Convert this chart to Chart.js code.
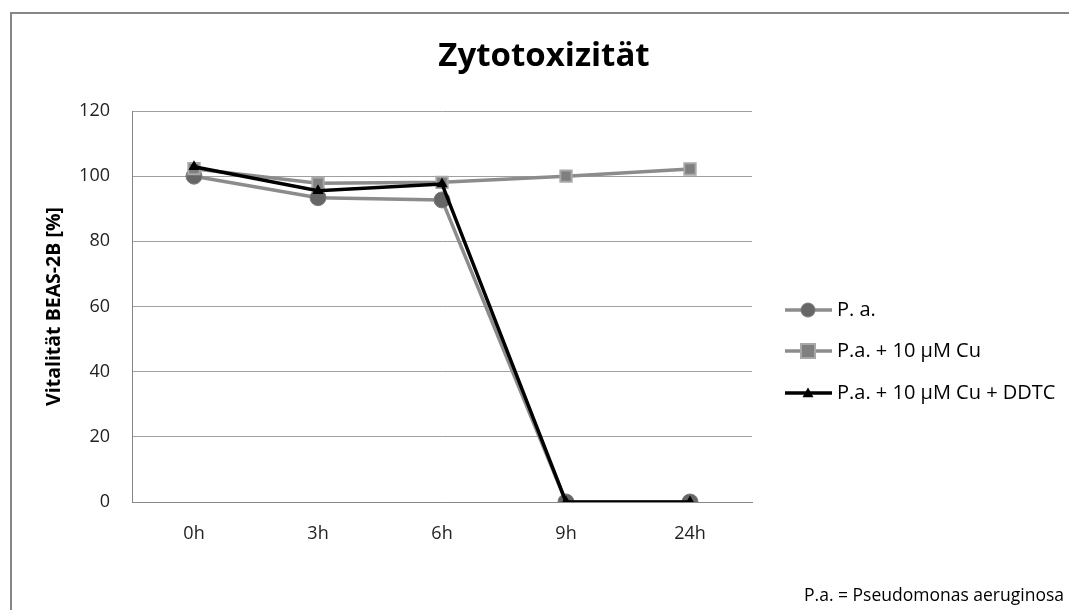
<!DOCTYPE html>
<html>
<head>
<meta charset="utf-8">
<script src="https://cdn.jsdelivr.net/npm/chart.js@4.4.0/dist/chart.umd.min.js"></script>
<style>
    html, body { margin: 0; padding: 0; background: #fff; }
    #wrap { width: 1069px; height: 610px; position: relative; }
</style>
</head>
<body>
<div id="wrap"><canvas id="zyto"></canvas></div>
<script>
var labels = ['0h', '3h', '6h', '9h', '24h'];
var pa = [100, 93.4, 92.7, 0, 0];
var paCu = [102.3, 97.8, 98.1, 100, 102.2];
var paCuDdtc = [102.9, 95.5, 97.6, 0, 0];
var seriesNames = ['P. a.', 'P.a. + 10 µM Cu', 'P.a. + 10 µM Cu + DDTC'];
var yTicks = [0, 20, 40, 60, 80, 100, 120];

var FONT = '"Open Sans", Lato, sans-serif';

// frame, title, legend and footnote like the Excel chart
var extras = {
    id: 'extras',
    beforeDraw: function (chart) {
        var c = chart.ctx;
        c.save();
        c.fillStyle = '#fff';
        c.fillRect(0, 0, chart.width, chart.height);
        c.strokeStyle = '#868686';
        c.lineWidth = 2;
        c.strokeRect(11, 13, chart.width + 10, chart.height + 10);
        c.restore();
    },
    afterDraw: function (chart) {
        var c = chart.ctx;
        c.save();
        c.fillStyle = '#000';
        c.font = 'bold 33px ' + FONT;
        c.textAlign = 'center';
        c.textBaseline = 'middle';
        c.fillText('Zytotoxizität', 544, 57);

        // legend
        var rows = [310, 351, 393];
        chart.data.datasets.forEach(function (ds, i) {
            var y = rows[i];
            c.strokeStyle = ds.borderColor;
            c.lineWidth = ds.borderWidth;
            c.beginPath();
            c.moveTo(785, y);
            c.lineTo(832, y);
            c.stroke();
            c.fillStyle = ds.pointBackgroundColor;
            c.strokeStyle = ds.pointBorderColor;
            c.lineWidth = ds.pointBorderWidth;
            var r = ds.pointRadius - 1;
            c.beginPath();
            if (ds.pointStyle === 'circle') {
                c.arc(808, y, r, 0, Math.PI * 2);
            } else if (ds.pointStyle === 'rect') {
                c.rect(808 - r, y - r, 2 * r, 2 * r);
            } else {
                c.moveTo(808, y - r);
                c.lineTo(808 + r, y + r * 0.75);
                c.lineTo(808 - r, y + r * 0.75);
                c.closePath();
            }
            c.fill();
            if (ds.pointBorderWidth) c.stroke();
            c.fillStyle = '#000';
            c.font = '20px ' + FONT;
            c.textAlign = 'left';
            c.fillText(ds.label, 837, y);
        });

        c.font = '17.5px ' + FONT;
        c.textAlign = 'right';
        c.fillText('P.a. = Pseudomonas aeruginosa', 1064, 596);
        c.restore();
    }
};

var ctx = document.getElementById('zyto').getContext('2d');
var chart = new Chart(ctx, {
    type: 'line',
    data: {
        labels: labels,
        datasets: [{
            label: seriesNames[0],
            data: pa,
            borderColor: '#8c8c8c',
            borderWidth: 3.5,
            pointStyle: 'circle',
            pointRadius: 8,
            pointBackgroundColor: '#666666',
            pointBorderColor: '#7a7a7a',
            pointBorderWidth: 1,
            order: 3
        }, {
            label: seriesNames[1],
            data: paCu,
            borderColor: '#8c8c8c',
            borderWidth: 3.5,
            pointStyle: 'rect',
            pointRadius: 8,
            pointBackgroundColor: '#7f7f7f',
            pointBorderColor: '#a8a8a8',
            pointBorderWidth: 2,
            order: 2
        }, {
            label: seriesNames[2],
            data: paCuDdtc,
            borderColor: '#000',
            borderWidth: 3.5,
            pointStyle: 'triangle',
            pointRadius: 6.5,
            pointBackgroundColor: '#000',
            pointBorderColor: '#000',
            pointBorderWidth: 0,
            order: 1
        }]
    },
    plugins: [extras],
    options: {
        responsive: true,
        maintainAspectRatio: false,
        animation: false,
        layout: { padding: { top: 111, right: 317, left: 0, bottom: 0 } },
        elements: { line: { tension: 0 } },
        plugins: {
            legend: { display: false },
            tooltip: { enabled: false }
        },
        scales: {
            x: {
                offset: true,
                grid: { display: false, drawTicks: false, offset: true },
                border: { color: '#868686', width: 1 },
                ticks: { padding: 21, color: '#222', font: { family: FONT, size: 18 } },
                afterFit: function (s) { s.height = 108; }
            },
            y: {
                min: 0,
                max: 120,
                afterBuildTicks: function (s) { s.ticks = yTicks.map(function (v) { return { value: v }; }); },
                grid: { color: '#a0a0a0', drawTicks: false },
                border: { color: '#868686', width: 1 },
                ticks: { padding: 22, color: '#222', font: { family: FONT, size: 18 } },
                title: {
                    display: true,
                    text: 'Vitalität BEAS-2B [%]',
                    color: '#000',
                    font: { family: FONT, size: 19.5, weight: 'bold' },
                    padding: { top: 43, bottom: 0 }
                },
                afterFit: function (s) { s.width = 132; }
            }
        }
    }
});
</script>
</body>
</html>
